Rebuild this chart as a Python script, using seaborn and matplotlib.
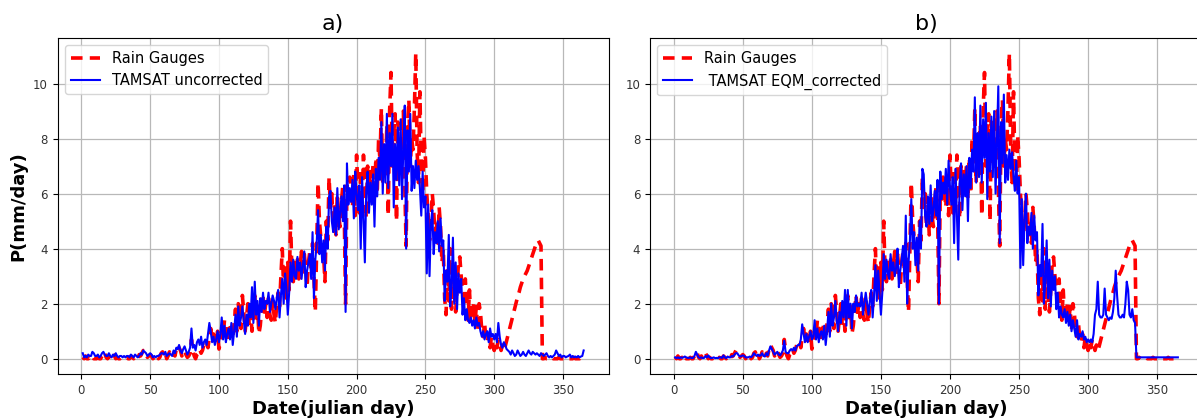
import numpy as np
import pandas as pd
import matplotlib
matplotlib.use("Agg")
import matplotlib.pyplot as plt
import seaborn as sns

days = list(range(1, 366))

rain_gauges = [
    0.05,0.0,0.1,0.0,0.0,0.05,0.0,0.1,0.0,0.0,
    0.0,0.05,0.0,0.0,0.1,0.25,0.2,0.05,0.0,0.1,
    0.0,0.05,0.2,0.1,0.0,0.05,0.0,0.0,0.05,0.0,
    0.0,0.0,0.05,0.0,0.0,0.1,0.05,0.0,0.1,0.05,
    0.0,0.15,0.1,0.2,0.3,0.25,0.2,0.05,0.1,0.15,
    0.1,0.0,0.05,0.0,0.1,0.0,0.05,0.2,0.25,0.1,
    0.2,0.0,0.1,0.25,0.1,0.05,0.2,0.1,0.35,0.5,
    0.4,0.3,0.1,0.2,0.3,0.15,0.05,0.1,0.2,0.7,
    0.3,0.1,0.0,0.15,0.2,0.35,0.2,0.3,0.5,0.45,
    0.6,0.4,0.8,1.1,0.7,0.9,0.6,0.5,1.0,0.35,
    0.6,1.0,0.8,1.4,1.1,0.6,0.9,1.3,0.8,0.7,
    1.3,1.8,1.0,2.0,1.4,1.1,2.3,1.7,1.0,1.5,
    2.0,1.2,1.7,1.0,2.1,2.3,1.4,1.9,0.9,1.2,
    1.8,2.3,1.6,2.0,1.5,2.2,1.6,1.4,2.1,1.6,
    1.3,2.0,2.4,1.9,3.0,4.0,2.5,3.3,2.2,3.5,
    2.5,5.0,3.2,2.8,3.5,3.0,3.6,2.9,3.4,3.9,
    3.0,3.8,3.3,2.6,3.5,3.9,3.2,4.2,2.9,1.7,
    4.1,6.4,5.0,4.4,4.0,3.8,2.8,5.0,4.3,6.6,
    5.5,6.0,4.8,5.6,4.5,6.0,5.2,4.8,5.7,6.3,
    5.4,2.0,6.3,5.8,6.6,6.1,5.5,6.8,5.2,7.4,
    6.0,5.3,6.9,5.6,7.4,6.5,5.1,7.0,6.2,6.8,
    6.2,7.1,5.8,7.3,6.0,8.0,7.2,9.1,6.4,7.9,
    6.8,8.5,5.2,9.0,10.4,7.0,8.2,8.9,5.0,8.6,
    7.5,6.8,8.1,9.0,6.3,4.1,8.5,9.4,7.0,8.0,
    7.6,9.1,11.1,7.5,6.4,9.7,7.0,6.0,8.1,7.3,
    6.0,5.2,4.3,5.0,6.0,5.4,4.5,5.0,4.2,5.5,
    4.8,3.5,4.0,2.2,1.6,3.3,2.1,4.0,1.8,3.0,
    2.4,1.7,2.5,3.5,3.7,3.0,2.4,2.2,2.9,2.0,
    1.4,2.5,1.5,1.4,2.0,1.3,1.9,1.0,2.0,1.7,
    1.0,0.8,1.3,0.7,0.6,0.9,0.4,0.8,0.5,0.3,
    0.6,0.4,0.7,0.5,0.3,0.5,0.3,0.45,0.65,0.85,
    1.05,1.25,1.45,1.65,1.85,2.05,2.25,2.4,2.6,2.75,
    2.9,3.0,3.1,3.2,3.35,3.5,3.65,3.8,3.95,4.1,
    4.2,4.3,4.2,4.1,0.0,0.0,0.05,0.0,0.0,0.0,
    0.0,0.05,0.0,0.0,0.0,0.0,0.05,0.0,0.0,0.0,
    0.0,0.0,0.05,0.0,0.0,0.0,0.0,0.05,0.0,0.0,
    0.0,0.0,0.05,0.0,0.0,
]

tamsat_uncorrected = [
    0.2,0.05,0.1,0.05,0.15,0.1,0.1,0.25,0.2,0.1,
    0.1,0.15,0.05,0.1,0.2,0.25,0.15,0.1,0.1,0.2,
    0.1,0.05,0.15,0.1,0.2,0.1,0.05,0.1,0.1,0.05,
    0.1,0.05,0.1,0.1,0.05,0.15,0.1,0.05,0.15,0.1,
    0.05,0.1,0.2,0.15,0.3,0.25,0.2,0.1,0.15,0.2,
    0.15,0.05,0.1,0.05,0.1,0.1,0.15,0.2,0.2,0.15,
    0.25,0.1,0.15,0.2,0.15,0.1,0.3,0.2,0.4,0.35,
    0.5,0.3,0.2,0.35,0.45,0.3,0.15,0.25,0.4,1.1,
    0.4,0.5,0.3,0.6,0.7,0.5,0.8,0.4,0.6,0.7,
    0.5,0.9,1.3,1.0,0.6,0.8,0.5,0.7,1.0,0.6,
    0.9,1.5,0.7,1.2,0.6,0.9,1.1,0.7,1.3,0.5,
    1.0,1.6,0.8,1.9,1.2,1.5,1.9,1.4,0.9,1.6,
    1.2,2.0,1.5,2.6,1.3,2.8,1.6,2.1,1.2,2.2,
    1.7,2.4,1.8,2.1,2.0,2.4,1.7,2.0,2.3,2.1,
    1.8,2.2,2.5,1.5,2.3,2.9,2.0,3.1,2.6,1.6,
    2.4,3.5,2.8,3.6,3.0,2.9,3.7,3.2,3.5,2.9,
    3.4,3.9,2.6,3.2,3.5,3.8,2.9,4.6,2.2,3.6,
    4.2,5.4,3.8,4.5,3.5,4.3,3.2,4.8,4.0,5.9,
    6.1,5.0,4.6,5.5,4.5,6.2,4.7,5.3,5.9,5.0,
    6.3,1.7,7.1,5.6,6.2,5.7,6.5,5.1,6.8,6.0,
    5.4,6.3,4.0,6.6,5.0,3.5,6.1,6.8,5.3,6.4,
    5.6,6.7,4.8,6.9,5.9,7.3,6.5,8.6,6.0,7.8,
    6.4,8.9,6.2,8.2,7.0,8.9,5.5,7.8,6.5,8.4,
    6.3,8.7,5.8,7.7,9.2,4.0,8.3,6.8,8.9,6.1,
    7.0,6.2,7.2,6.5,7.0,6.2,5.2,6.8,5.5,5.9,
    3.1,5.6,3.0,4.9,5.4,3.8,4.6,4.2,5.0,3.9,
    5.1,4.1,4.3,2.1,3.2,2.8,4.5,1.9,2.6,4.4,
    2.0,3.5,1.8,3.1,2.4,2.9,1.6,2.2,1.4,1.8,
    1.4,1.3,1.5,1.2,1.4,1.1,1.5,1.2,1.3,1.0,
    0.8,1.0,0.7,0.9,1.0,0.6,1.1,0.8,0.9,0.7,
    0.9,0.6,1.3,0.8,0.5,0.4,0.6,0.5,0.35,0.3,
    0.25,0.15,0.3,0.2,0.1,0.15,0.3,0.2,0.1,0.15,
    0.25,0.15,0.1,0.2,0.3,0.2,0.15,0.25,0.2,0.15,
    0.2,0.15,0.1,0.2,0.15,0.1,0.15,0.2,0.1,0.05,
    0.1,0.05,0.1,0.15,0.3,0.2,0.1,0.15,0.05,0.1,
    0.1,0.05,0.08,0.1,0.15,0.05,0.1,0.05,0.08,0.05,
    0.1,0.05,0.08,0.1,0.3,
]

tamsat_eqm = [
    0.05,0.02,0.05,0.02,0.05,0.03,0.05,0.08,0.05,0.03,
    0.03,0.05,0.02,0.03,0.1,0.25,0.15,0.05,0.03,0.05,
    0.02,0.03,0.1,0.05,0.12,0.05,0.02,0.03,0.05,0.02,
    0.03,0.02,0.05,0.05,0.03,0.12,0.05,0.02,0.08,0.05,
    0.05,0.1,0.08,0.15,0.2,0.2,0.12,0.08,0.1,0.12,
    0.1,0.05,0.05,0.05,0.08,0.06,0.1,0.2,0.15,0.1,
    0.15,0.1,0.12,0.2,0.1,0.08,0.2,0.12,0.3,0.45,
    0.35,0.25,0.15,0.2,0.25,0.15,0.12,0.2,0.3,0.65,
    0.25,0.2,0.2,0.3,0.35,0.3,0.4,0.3,0.45,0.5,
    0.5,0.7,1.25,0.9,0.6,0.9,0.6,0.8,1.0,0.7,
    0.8,1.4,0.7,1.1,0.6,0.9,1.0,0.7,1.2,0.5,
    1.0,1.7,0.8,2.0,1.2,1.5,2.1,1.4,1.0,1.7,
    1.3,2.1,1.5,2.5,1.2,2.5,1.5,2.0,1.1,2.0,
    1.7,2.3,1.9,2.0,1.9,2.4,1.6,2.0,2.4,2.0,
    1.6,2.1,2.5,1.5,2.3,3.4,2.1,3.2,2.4,1.6,
    2.4,3.8,2.9,3.6,3.1,2.9,3.8,3.2,3.5,3.0,
    3.3,4.0,2.6,3.2,3.6,4.1,2.8,5.2,2.0,3.5,
    4.3,5.8,4.0,4.6,3.4,4.4,3.2,5.0,4.0,6.9,
    6.7,5.2,4.8,5.9,4.9,6.3,5.0,5.4,6.1,5.2,
    6.5,2.0,6.8,5.8,6.4,6.0,6.9,5.6,7.2,6.2,
    5.6,6.6,4.2,6.9,5.3,3.6,6.4,7.1,5.4,6.7,
    5.9,7.0,5.0,7.3,6.2,7.6,6.8,9.5,6.4,8.2,
    6.6,9.2,6.4,8.7,7.3,9.3,5.8,8.2,6.8,8.8,
    6.6,9.0,6.0,8.0,9.9,4.2,8.6,7.1,9.6,6.4,
    7.4,6.5,7.6,6.9,7.5,6.6,6.1,7.2,6.0,6.6,
    3.3,5.8,3.4,5.1,6.0,4.2,4.8,4.5,5.3,4.0,
    5.2,4.3,4.6,2.3,3.4,3.0,4.9,2.0,2.8,4.3,
    2.2,3.6,1.9,3.2,2.5,3.0,1.8,2.4,1.5,1.9,
    1.6,1.5,1.8,1.3,1.7,1.2,1.6,1.0,1.4,1.1,
    0.8,1.4,0.7,0.9,0.8,1.0,0.7,0.8,0.6,0.7,
    0.6,0.7,0.6,0.9,1.6,1.8,2.8,1.6,1.5,1.5,
    1.6,2.55,1.6,1.5,1.4,1.5,1.45,1.7,2.2,3.2,
    2.3,1.6,1.5,1.5,1.6,1.5,2.0,2.8,2.5,1.6,
    1.5,1.8,1.4,1.3,0.05,0.05,0.05,0.05,0.05,0.05,
    0.05,0.05,0.05,0.05,0.05,0.05,0.05,0.05,0.05,0.05,
    0.05,0.05,0.05,0.05,0.05,0.05,0.05,0.05,0.05,0.05,
    0.05,0.05,0.05,0.05,0.05,
]

panel_titles = ["a)", "b)"]
sat_labels = ["TAMSAT uncorrected", " TAMSAT EQM_corrected"]
gauge_label = "Rain Gauges"
x_label = "Date(julian day)"
y_label = "P(mm/day)"

plt.rcParams["font.family"] = ["DejaVu Sans"]

fig = plt.figure(figsize=(11.97, 4.18), dpi=100)
W, H = 1197.0, 418.0
ax1 = fig.add_axes([57.7 / W, 1 - 374 / H, 551 / W, 336 / H])
ax2 = fig.add_axes([650 / W, 1 - 374 / H, 553 / W, 336 / H])

df = pd.DataFrame({"day": days, "gauge": rain_gauges,
                   "unc": tamsat_uncorrected, "eqm": tamsat_eqm})

for ax, col, lab, title in zip([ax1, ax2], ["unc", "eqm"], sat_labels, panel_titles):
    sns.lineplot(data=df, x="day", y="gauge", ax=ax, color="red",
                 linewidth=2.6, linestyle=(0, (3.2, 2.0)), label=gauge_label)
    sns.lineplot(data=df, x="day", y=col, ax=ax, color="blue",
                 linewidth=1.5, label=lab)
    ax.grid(True, color="#b8b8b8", linewidth=0.9)
    ax.set_axisbelow(True)
    ax.set_title(title, fontsize=16)
    ax.set_xlabel(x_label, fontsize=13, fontweight="bold", labelpad=2.5)
    ax.set_ylabel("")
    ax.tick_params(labelsize=8.5, labelcolor="#333333")
    ax.set_yticks([0, 2, 4, 6, 8, 10])
    ax.set_xticks([0, 50, 100, 150, 200, 250, 300, 350])
    ax.legend(loc="upper left", fontsize=10.5)

ax1.set_ylabel(y_label, fontsize=13, fontweight="bold")

fig.savefig("out.png", dpi=100)
